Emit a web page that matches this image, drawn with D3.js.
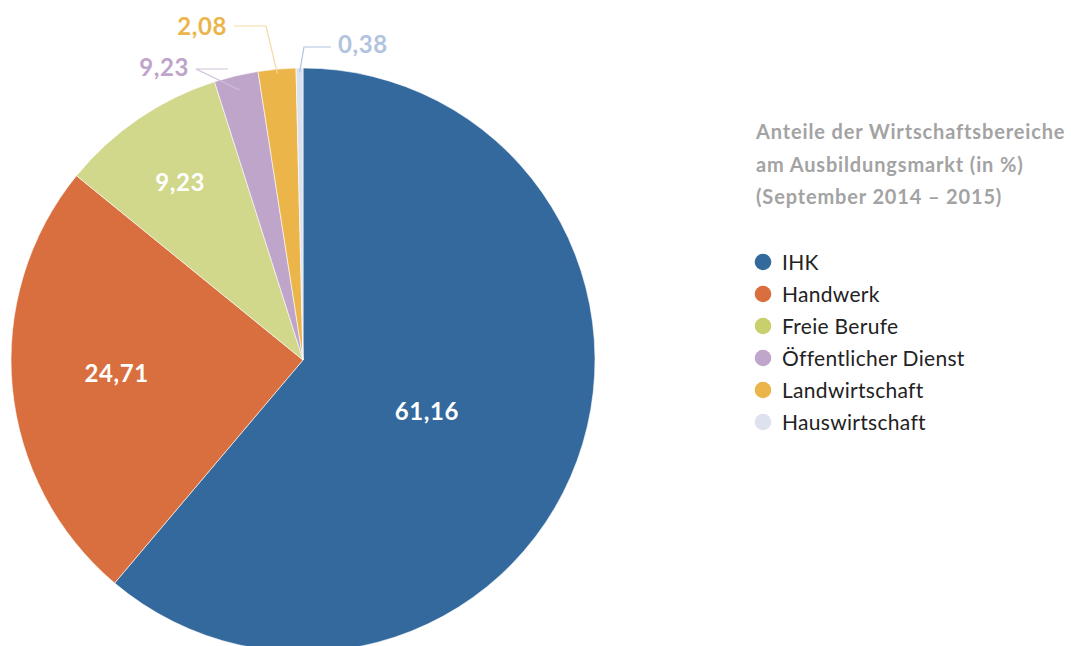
<!DOCTYPE html>
<html>
<head>
<meta charset="utf-8">
<script src="https://cdn.jsdelivr.net/npm/d3@7"></script>
<style>
  body { margin: 0; background: #fff; }
  svg { display: block; font-family: Lato, "Open Sans", sans-serif; }
</style>
</head>
<body>
<div id="chart"></div>
<script>
// Data
const categories = ['IHK', 'Handwerk', 'Freie Berufe', 'Öffentlicher Dienst', 'Landwirtschaft', 'Hauswirtschaft'];
const values = [61.16, 24.71, 9.23, 2.44, 2.08, 0.38];
// labels as printed in the original (purple slice is labelled 9,23 there)
const valueLabels = ['61,16', '24,71', '9,23', '9,23', '2,08', '0,38'];
const colors = ['#34699e', '#d96f3e', '#d1d78b', '#bfa5c9', '#ecb54a', '#dce1ee'];
const legendColors = ['#34699e', '#d96f3e', '#c8cf6c', '#c0a6cb', '#ecb54a', '#dde2ee'];
const labelColors = ['#fff', '#fff', '#fff', '#bea4c9', '#ecb54a', '#b2c3df'];
const leaderColors = [null, null, null, '#cfbfd8', '#f5d9a3', '#b2c3df'];
const titleLines = ['Anteile der Wirtschaftsbereiche', 'am Ausbildungsmarkt (in %)', '(September 2014 – 2015)'];

const W = 1071, H = 646;
const cx = 303, cy = 360, R = 292;

const svg = d3.select('#chart').append('svg')
  .attr('width', W).attr('height', H);

const pie = d3.pie().sort(null).value(d => d);
const arcs = pie(values);
const arc = d3.arc().innerRadius(0).outerRadius(R);

const g = svg.append('g').attr('transform', `translate(${cx},${cy})`);

g.selectAll('path.slice')
  .data(arcs)
  .join('path')
  .attr('class', 'slice')
  .attr('d', arc)
  .attr('fill', (d, i) => colors[i])
  .attr('stroke', '#fff')
  .attr('stroke-width', 0.6);

// inside labels for the big slices (radius fraction, angle nudge in degrees)
const inner = [
  { i: 0, r: 0.46, da: 2.6 },
  { i: 1, r: 0.64, da: 1.3 },
  { i: 2, r: 0.74, da: -0.4 },
];
inner.forEach(({ i, r, da }) => {
  const a = arcs[i];
  const mid = (a.startAngle + a.endAngle) / 2 + da * Math.PI / 180;
  const x = Math.sin(mid) * R * r;
  const y = -Math.cos(mid) * R * r;
  g.append('text')
    .attr('x', x).attr('y', y)
    .attr('dy', '0.35em')
    .attr('text-anchor', 'middle')
    .attr('fill', labelColors[i])
    .attr('font-size', '24px')
    .attr('font-weight', 700)
    .attr('letter-spacing', '0.6px')
    .text(valueLabels[i]);
});

// outside labels with leader lines
const outer = [
  { i: 3, rIn: 0.95, elbow: [-107, -291], end: [-75, -291], text: [-114, -284], anchor: 'end' },
  { i: 4, rIn: 0.985, elbow: [-37, -334], end: [-69, -334], text: [-76, -325], anchor: 'end' },
  { i: 5, rIn: 0.985, elbow: [1, -313], end: [28, -313], text: [35, -307], anchor: 'start' },
];
outer.forEach(o => {
  const a = arcs[o.i];
  const mid = (a.startAngle + a.endAngle) / 2;
  const p0 = [Math.sin(mid) * R * o.rIn, -Math.cos(mid) * R * o.rIn];
  g.append('polyline')
    .attr('points', [p0, o.elbow, o.end].map(p => p.join(',')).join(' '))
    .attr('fill', 'none')
    .attr('stroke', leaderColors[o.i])
    .attr('stroke-width', 1.2);
  g.append('text')
    .attr('x', o.text[0]).attr('y', o.text[1])
    .attr('text-anchor', o.anchor)
    .attr('fill', labelColors[o.i])
    .attr('font-size', '24px')
    .attr('font-weight', 700)
    .attr('letter-spacing', '0.6px')
    .text(valueLabels[o.i]);
});

// Title
svg.append('g')
  .selectAll('text')
  .data(titleLines)
  .join('text')
  .attr('x', 756)
  .attr('y', (d, i) => 139 + i * 32.5)
  .attr('fill', '#a3a3a3')
  .attr('font-size', '20px')
  .attr('font-weight', 700)
  .attr('letter-spacing', '0.85px')
  .text(d => d);

// Legend
const legend = svg.append('g').attr('transform', 'translate(763,262)');
const item = legend.selectAll('g')
  .data(categories)
  .join('g')
  .attr('transform', (d, i) => `translate(0,${i * 32})`);
item.append('circle')
  .attr('r', 8.3)
  .attr('fill', (d, i) => legendColors[i]);
item.append('text')
  .attr('x', 19)
  .attr('dy', '0.36em')
  .attr('fill', '#222')
  .attr('font-size', '21px')
  .attr('letter-spacing', '0.3px')
  .text(d => d);
</script>
</body>
</html>
